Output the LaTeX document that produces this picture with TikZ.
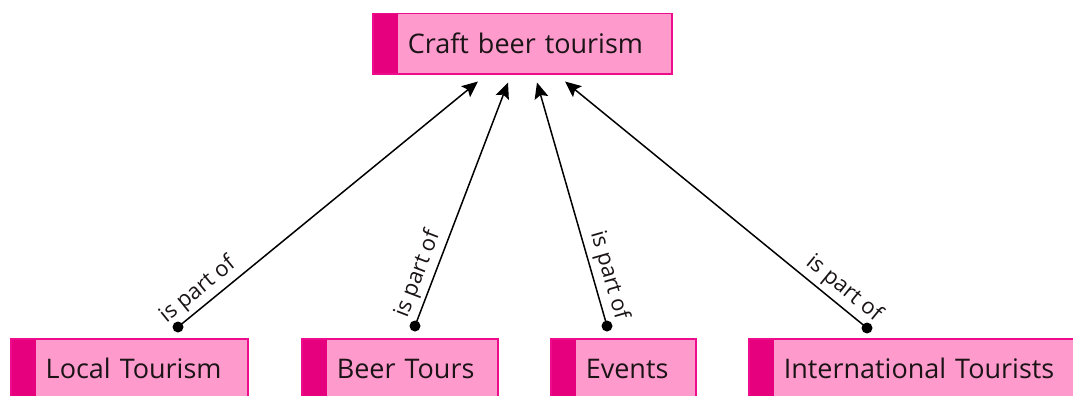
\documentclass[tikz,border=0pt]{standalone}
\usepackage{fontspec}
\setmainfont{Open Sans}
\usetikzlibrary{arrows.meta}
\definecolor{boxfill}{HTML}{FF9ACD}
\definecolor{boxedge}{HTML}{EC0C8C}
\definecolor{stripc}{HTML}{E6007E}
\definecolor{txt}{HTML}{1A1416}
\begin{document}
\begin{tikzpicture}[x=1pt,y=-1pt,
  concept/.style={draw=boxedge, line width=1.5pt, fill=boxfill, anchor=north west,
    minimum height=60pt, inner xsep=0pt, inner ysep=0pt, align=left, text width=#1,
    font=\fontsize{27}{32}\selectfont, text=txt,
    path picture={\fill[stripc] (path picture bounding box.north west) rectangle ([xshift=25pt]path picture bounding box.south west);},
    execute at begin node={\hspace*{35pt}}},
  rel/.style={line width=1.5pt, draw=black, -{Stealth[length=16pt,width=14pt,inset=3pt]}},
  lbl/.style={font=\fontsize{22}{24}\selectfont, text=txt, sloped, above, inner sep=4pt},
  enddot/.style={fill=black}]
\useasboundingbox (0,0) rectangle (1073,396);
\fill[white] (0,0) rectangle (1073,396);
\node[concept=299pt] (top) at (372,13) {Craft beer tourism};
\node[concept=237pt] (loc) at (10,338) {Local Tourism};
\node[concept=196pt] (beer) at (301,338) {Beer Tours};
\node[concept=145pt] (ev) at (550,338) {Events};
\node[concept=340pt] (intl) at (748,338) {International Tourists};
\coordinate (s1) at ([xshift=168pt,yshift=11pt]loc.north west);
\coordinate (s2) at ([xshift=114pt,yshift=12pt]beer.north west);
\coordinate (s3) at ([xshift=57pt,yshift=12pt]ev.north west);
\coordinate (s4) at ([xshift=119pt,yshift=10pt]intl.north west);
\coordinate (t1) at ([xshift=106pt,yshift=-7pt]top.south west);
\coordinate (t2) at ([xshift=136pt,yshift=-8pt]top.south west);
\coordinate (t3) at ([xshift=165pt,yshift=-8pt]top.south west);
\coordinate (t4) at ([xshift=193pt,yshift=-7pt]top.south west);
\draw[rel] (s1) -- node[lbl,pos=0.1]{is part of} (t1);
\draw[rel] (s2) -- node[lbl,pos=0.19]{is part of} (t2);
\draw[rel] (s3) -- node[lbl,pos=0.19]{is part of} (t3);
\draw[rel] (s4) -- node[lbl,pos=0.11]{is part of} (t4);
\foreach \s in {s1,s2,s3,s4} \fill[enddot] (\s) circle[radius=5.5pt];
\end{tikzpicture}
\end{document}
